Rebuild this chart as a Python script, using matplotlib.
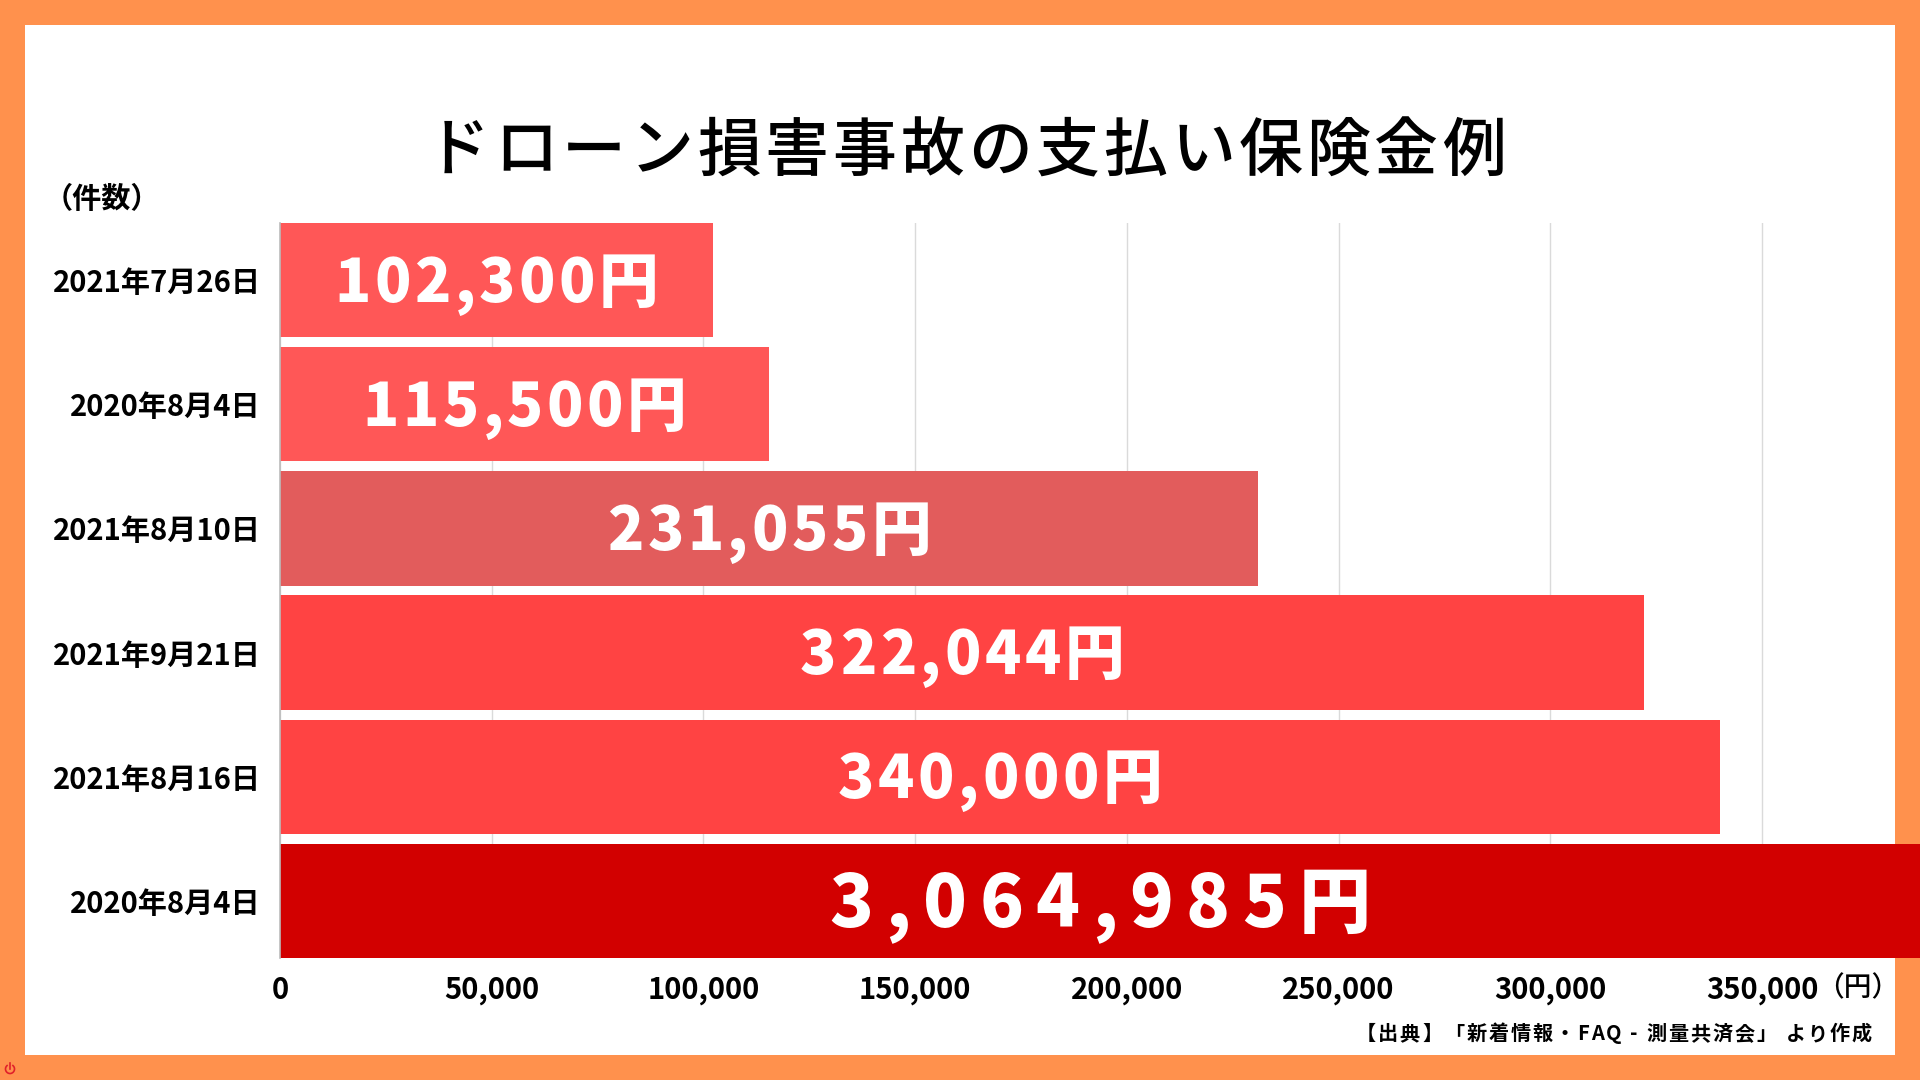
import matplotlib
matplotlib.use("Agg")
import matplotlib.pyplot as plt
import matplotlib.patches as mpatches
from matplotlib import font_manager as fm
from matplotlib.ft2font import FT2Font
from matplotlib.transforms import offset_copy

# ---------------- data ----------------
title = "ドローン損害事故の支払い保険金例"
dates = ["2021年7月26日", "2020年8月4日", "2021年8月10日",
         "2021年9月21日", "2021年8月16日", "2020年8月4日"]
amounts = [102300, 115500, 231055, 322044, 340000, 3064985]
bar_colors = ["#FF5757", "#FF5757", "#E25C5C", "#FF4343", "#FF4343", "#D20000"]
xticks = [0, 50000, 100000, 150000, 200000, 250000, 300000, 350000]
xtick_labels = [f"{v:,}" for v in xticks]
y_unit = "（件数）"
x_unit = "（円）"
source = "【出典】「新着情報・FAQ - 測量共済会」 より作成"

W, H = 1920, 1080
JP = ["Noto Sans CJK JP", "DejaVu Sans"]
plt.rcParams["font.family"] = JP

fig = plt.figure(figsize=(W / 100, H / 100), dpi=100)
fig.patch.set_facecolor("#FF914D")

# white panel inside orange frame
border = 25
fig.patches.append(mpatches.Rectangle((border / W, border / H),
                                      (W - 2 * border) / W, (H - 2 * border) / H,
                                      transform=fig.transFigure, facecolor="white",
                                      edgecolor="none", zorder=-10))

# small power icon in the frame (bottom-left)
fig.patches.append(mpatches.Arc((10, 11), 9, 9, theta1=120, theta2=420,
                                transform=None, color="#E0202A", lw=1.2, zorder=1))
fig.lines.append(plt.Line2D([10, 10], [11, 17], transform=None, color="#E0202A", lw=1.2))

# axes: left at x=280px, right edge at figure edge, bars from y=223 to 958
ax_left, ax_right = 280, 1920
ax_top, ax_bottom = 223, 958
ax = fig.add_axes([ax_left / W, (H - ax_bottom) / H, (ax_right - ax_left) / W,
                   (ax_bottom - ax_top) / H])
ax.set_facecolor("none")
ax.set_zorder(5)

bar_h = 0.92
ypos = list(range(len(dates)))
ax.barh(ypos, amounts, height=bar_h, color=bar_colors, zorder=2)

xmax = 387300
ax.set_xlim(0, xmax)
ax.set_ylim(len(dates) - 1 + bar_h / 2, -bar_h / 2)

ax.set_xticks(xticks)
ax.set_xticklabels(xtick_labels, fontsize=21, fontweight="bold")
ax.set_yticks(ypos)
ax.set_yticklabels(dates, fontsize=21, fontweight="bold")
ax.tick_params(axis="both", length=0)
ax.tick_params(axis="y", pad=14)
ax.tick_params(axis="x", pad=12)
ax.grid(axis="x", color="#DADADA", lw=1.0, zorder=0)
ax.set_axisbelow(True)
for s in ["top", "right", "bottom"]:
    ax.spines[s].set_visible(False)
ax.spines["left"].set_color("#BBBBBB")
ax.spines["left"].set_linewidth(1.2)
ax.spines["left"].set_zorder(3)

# ---------- letter-spaced text helper ----------
_font_cache = {}


def advance_pt(ch, size, weight):
    prop = fm.FontProperties(family=JP, weight=weight)
    path = fm.findfont(prop)
    if path not in _font_cache:
        _font_cache[path] = FT2Font(path)
    f = _font_cache[path]
    f.set_size(size, 72)
    g = f.load_char(ord(ch))
    return g.linearHoriAdvance / 65536.0


def spaced_text(x, y, s, size, spacing_em, transform, align="center",
                color="white", weight="bold", zorder=5, cap=0.72):
    advs = [advance_pt(c, size, weight) for c in s]
    gap = spacing_em * size
    total = sum(advs) + gap * (len(s) - 1)
    if align == "center":
        pen = -total / 2.0
    elif align == "right":
        pen = -total
    else:
        pen = 0.0
    base = -cap / 2.0 * size
    for c, a in zip(s, advs):
        if c != " ":
            tr = offset_copy(transform, fig=fig, x=pen + a / 2.0, y=base, units="points")
            fig.text(x, y, c, transform=tr, ha="center", va="baseline", fontsize=size,
                     fontweight=weight, color=color, zorder=zorder)
        pen += a + gap


# value labels inside bars
for i, v in enumerate(amounts):
    label = f"{v:,}円"
    xc = min(v, xmax) / 2.0
    big = v > xmax
    spaced_text(xc, i, label, 52 if big else 43, 0.17 if big else 0.06,
                ax.transData, weight="heavy", zorder=20)

# ---------- texts ----------
ftr = fig.transFigure
spaced_text(966 / W, 1 - 145 / H, title, 46, 0.06, ftr, color="black",
            weight="medium", cap=0.8)
fig.text(102 / W, 1 - 199 / H, y_unit, ha="center", va="center", fontsize=21,
         fontweight="bold", color="black")
fig.text(1858 / W, 1 - 988 / H, x_unit, ha="center", va="center", fontsize=20,
         fontweight="medium", color="black")
spaced_text(1872 / W, 1 - 1032 / H, source, 14.5, 0.1, ftr, align="right",
            color="black", weight="bold", cap=0.8)

fig.savefig("out.png", dpi=100, facecolor=fig.get_facecolor())
